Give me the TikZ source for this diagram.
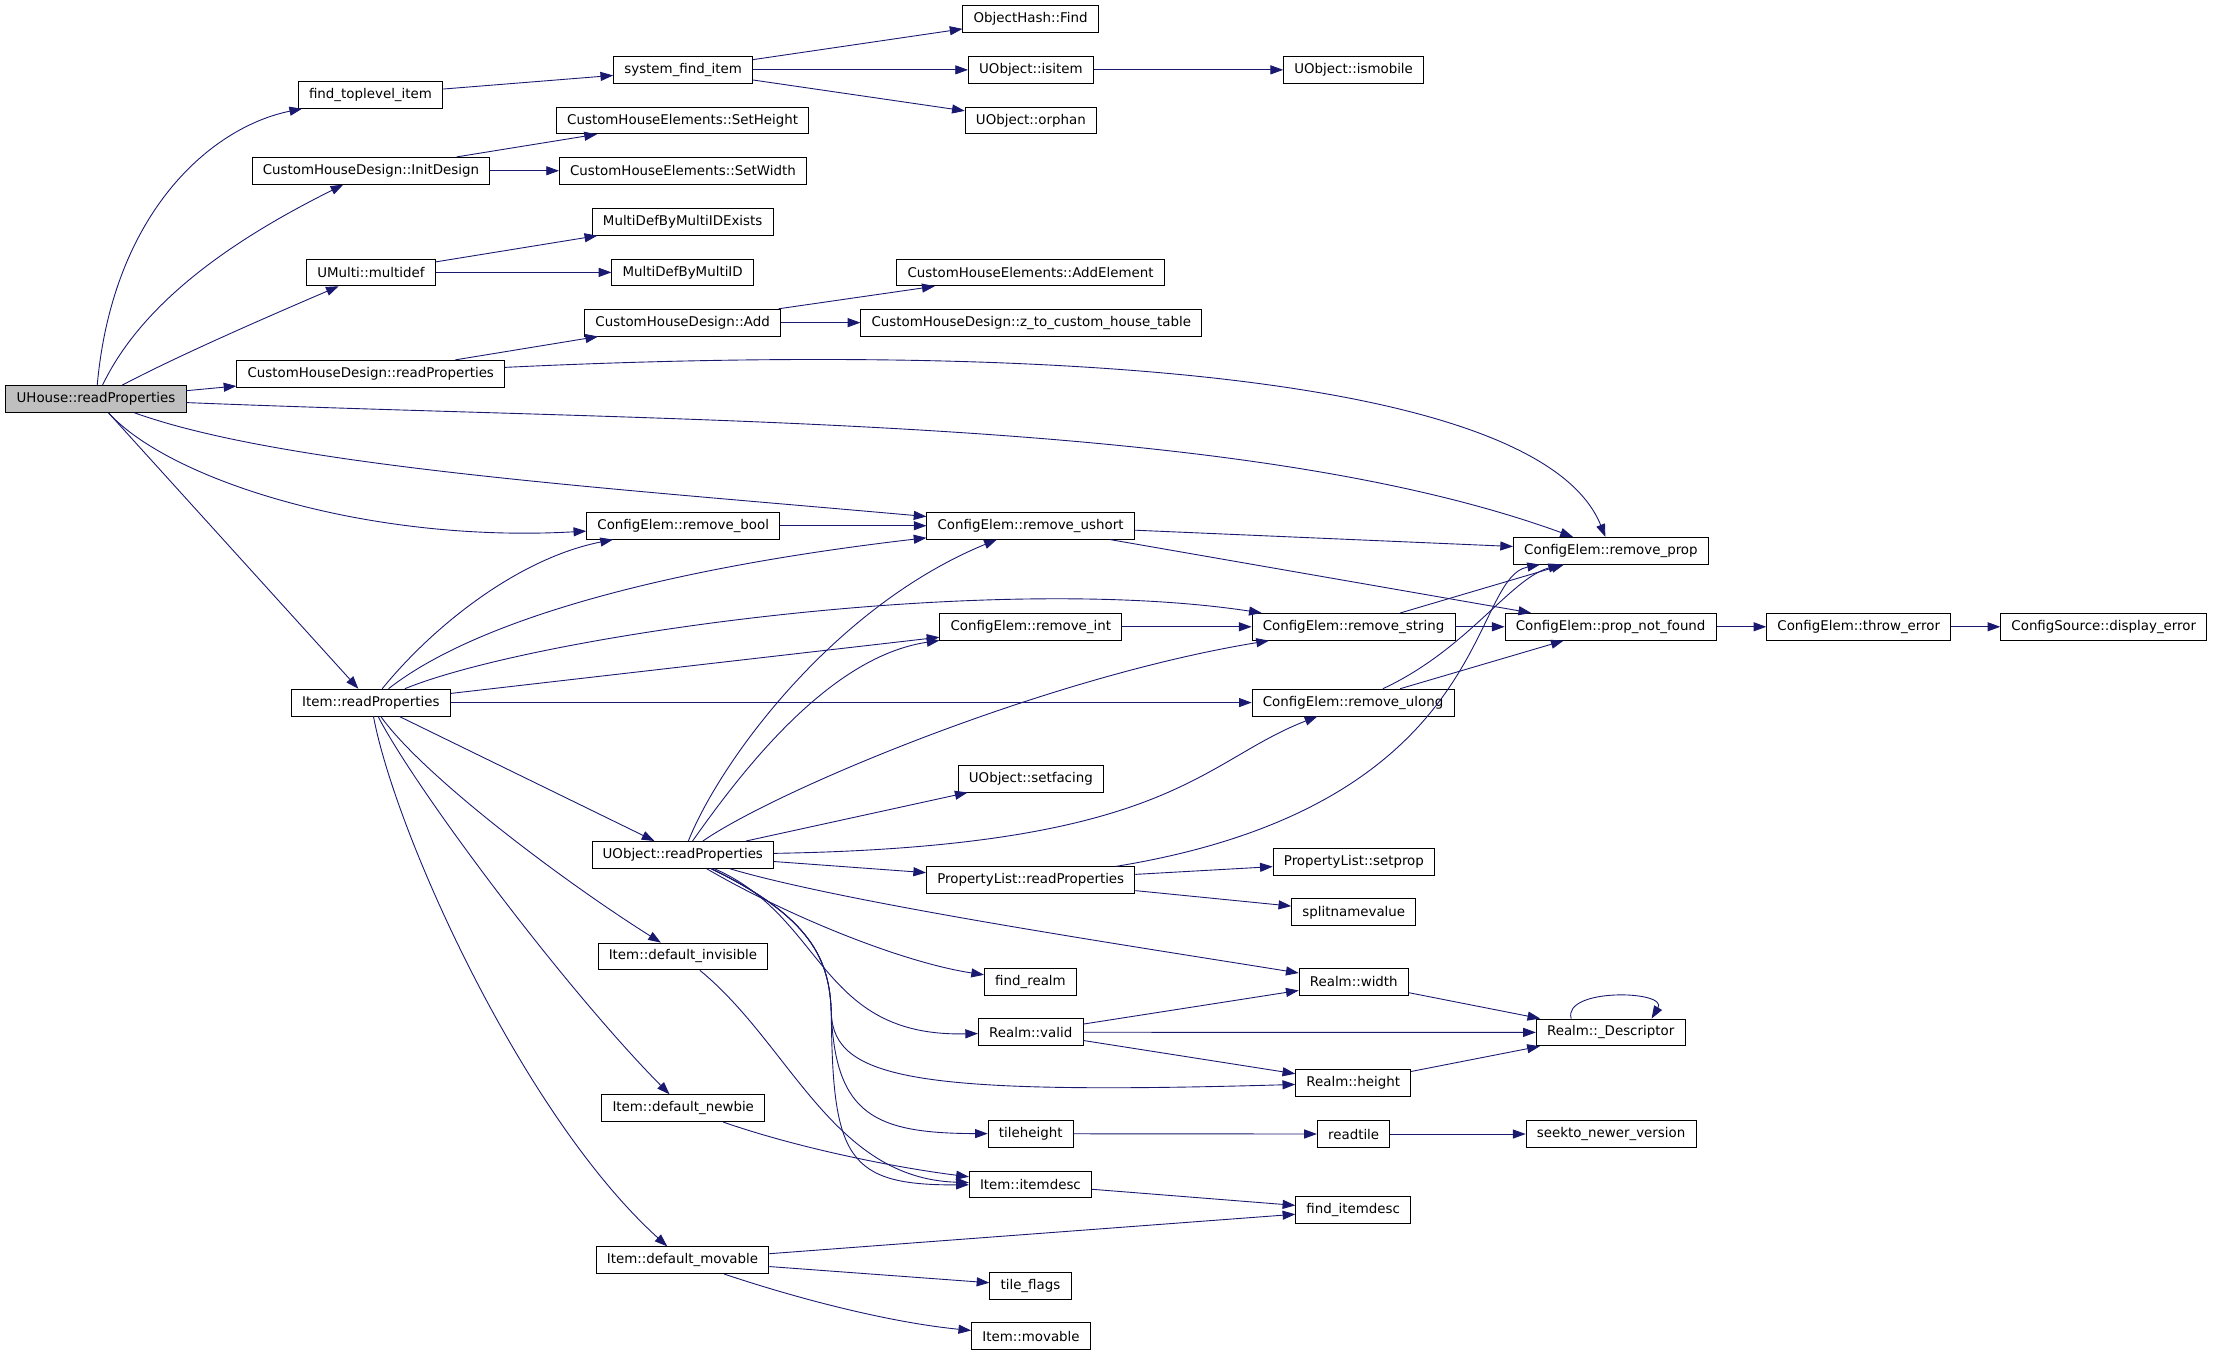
\documentclass[tikz,border=0pt]{standalone}
\usepackage{fontspec}
\setmainfont{DejaVu Sans}
\usetikzlibrary{arrows.meta}
\definecolor{edgeblue}{RGB}{25,25,112}
\definecolor{rootgray}{RGB}{191,191,191}

\begin{document}
\begin{tikzpicture}[x=0.05cm,y=-0.05cm,
   fn/.style={draw,fill=white,line width=0.9pt,inner xsep=0.38cm,inner ysep=0pt,
      minimum height=0.95cm,font=\fontsize{13.5}{16}\selectfont},
   call/.style={draw=edgeblue,line width=0.9pt,-{Triangle[length=0.45cm,width=0.32cm]}}]
   \useasboundingbox (0,0) rectangle (1568,960);

   \node[fn,fill=rootgray] (uh) at (68,282.7) {UHouse::readProperties};

   \node[fn] (ftl)     at (262.5,67.2)  {find\_toplevel\_item};
   \node[fn] (chdinit) at (262.8,121)   {CustomHouseDesign::InitDesign};
   \node[fn] (mdef)    at (262.8,193)   {UMulti::multidef};
   \node[fn] (chdread) at (262.7,264.8) {CustomHouseDesign::readProperties};
   \node[fn] (iread)   at (262.8,497.8) {Item::readProperties};

   \node[fn] (sfi)     at (484,49.5)    {system\_find\_item};
   \node[fn] (seth)    at (483.7,85.3)  {CustomHouseElements::SetHeight};
   \node[fn] (setw)    at (483.9,121)   {CustomHouseElements::SetWidth};
   \node[fn] (mdex)    at (483.7,157.2) {MultiDefByMultiIDExists};
   \node[fn] (mdid)    at (483.7,193)   {MultiDefByMultiID};
   \node[fn] (chdadd)  at (483.7,228.6) {CustomHouseDesign::Add};
   \node[fn] (rbool)   at (484.1,372.5) {ConfigElem::remove\_bool};
   \node[fn] (uoread)  at (483.8,605.7) {UObject::readProperties};
   \node[fn] (dinv)    at (483.9,677.7) {Item::default\_invisible};
   \node[fn] (dnew)    at (484.1,785.2) {Item::default\_newbie};
   \node[fn] (dmov)    at (483.6,892.9) {Item::default\_movable};

   \node[fn] (ohf)     at (730.2,13.4)  {ObjectHash::Find};
   \node[fn] (isit)    at (730.4,49.5)  {UObject::isitem};
   \node[fn] (orph)    at (730.4,85.3)  {UObject::orphan};
   \node[fn] (addel)   at (730.2,193)   {CustomHouseElements::AddElement};
   \node[fn] (zcht)    at (730.7,228.6) {CustomHouseDesign::z\_to\_custom\_house\_table};
   \node[fn] (rushort) at (730.2,372.5) {ConfigElem::remove\_ushort};
   \node[fn] (rint)    at (730.4,444.1) {ConfigElem::remove\_int};
   \node[fn] (sface)   at (730.4,551.7) {UObject::setfacing};
   \node[fn] (plread)  at (730.3,623.7) {PropertyList::readProperties};
   \node[fn] (frealm)  at (730.1,695.7) {find\_realm};
   \node[fn] (rvalid)  at (730.3,731.4) {Realm::valid};
   \node[fn] (theight) at (730.3,803.3) {tileheight};
   \node[fn] (idesc)   at (730.1,839.2) {Item::itemdesc};
   \node[fn] (tflags)  at (730.1,911)   {tile\_flags};
   \node[fn] (imov)    at (730.5,946.8) {Item::movable};

   \node[fn] (ismob)   at (959.1,49.5)  {UObject::ismobile};
   \node[fn] (rstring) at (959,444.1)   {ConfigElem::remove\_string};
   \node[fn] (rulong)  at (958.7,497.8) {ConfigElem::remove\_ulong};
   \node[fn] (setprop) at (959.3,610.8) {PropertyList::setprop};
   \node[fn] (splitnv) at (959.2,646.4) {splitnamevalue};
   \node[fn] (rwidth)  at (959.2,695.7) {Realm::width};
   \node[fn] (rheight) at (958.8,767.2) {Realm::height};
   \node[fn] (rtile)   at (959.1,803.5) {readtile};
   \node[fn] (fidesc)  at (958.8,857.3) {find\_itemdesc};

   \node[fn] (rprop)   at (1141.4,390.2) {ConfigElem::remove\_prop};
   \node[fn] (pnf)     at (1141.2,444.1) {ConfigElem::prop\_not\_found};
   \node[fn] (rdesc)   at (1141.2,731.5) {Realm::\_Descriptor};
   \node[fn] (seekto)  at (1141.5,803.5) {seekto\_newer\_version};
   \node[fn] (therr)   at (1317,444.1)   {ConfigElem::throw\_error};
   \node[fn] (disperr) at (1490.6,444.1) {ConfigSource::display\_error};

   \coordinate (ubend) at (589,718);

   \draw[call] (uh) .. controls (80,150) and (150,90) .. (ftl);
   \draw[call] (uh) .. controls (105,205) and (185,160) .. (chdinit);
   \draw[call] (uh) .. controls (130,250) and (200,220) .. (mdef);
   \draw[call] (uh) -- (chdread);
   \draw[call] (uh) .. controls (500,300) and (880,295) .. (rprop);
   \draw[call] (uh) .. controls (200,330) and (420,345) .. (rushort);
   \draw[call] (uh) .. controls (120,340) and (260,385) .. (rbool);
   \draw[call] (uh) -- (iread);

   \draw[call] (ftl) -- (sfi);
   \draw[call] (sfi) -- (ohf);
   \draw[call] (sfi) -- (isit);
   \draw[call] (sfi) -- (orph);
   \draw[call] (isit) -- (ismob);
   \draw[call] (chdinit) -- (seth);
   \draw[call] (chdinit) -- (setw);
   \draw[call] (mdef) -- (mdex);
   \draw[call] (mdef) -- (mdid);
   \draw[call] (chdread) -- (chdadd);
   \draw[call] (chdread) .. controls (720,243) and (1090,262) .. (rprop);
   \draw[call] (chdadd) -- (addel);
   \draw[call] (chdadd) -- (zcht);

   \draw[call] (rbool) -- (rushort);
   \draw[call] (rushort) -- (rprop);
   \draw[call] (rushort) -- (pnf);
   \draw[call] (rint) -- (rstring);
   \draw[call] (rstring) -- (rprop);
   \draw[call] (rstring) -- (pnf);
   \draw[call] (rulong) .. controls (1040,460) and (1070,410) .. (rprop);
   \draw[call] (rulong) -- (pnf);
   \draw[call] (pnf) -- (therr);
   \draw[call] (therr) -- (disperr);

   \draw[call] (iread) .. controls (310,440) and (370,395) .. (rbool);
   \draw[call] (iread) .. controls (330,445) and (450,405) .. (rushort);
   \draw[call] (iread) .. controls (380,450) and (700,405) .. (rstring);
   \draw[call] (iread) -- (rint);
   \draw[call] (iread) -- (rulong);
   \draw[call] (iread) -- (uoread);
   \draw[call] (iread) .. controls (300,550) and (400,625) .. (dinv);
   \draw[call] (iread) .. controls (295,560) and (400,700) .. (dnew);
   \draw[call] (iread) .. controls (280,590) and (370,790) .. (dmov);

   \draw[call] (uoread) .. controls (510,540) and (590,430) .. (rushort);
   \draw[call] (uoread) .. controls (530,540) and (590,465) .. (rint);
   \draw[call] (uoread) .. controls (550,560) and (740,480) .. (rstring);
   \draw[call] (uoread) .. controls (830,600) and (850,540) .. (rulong);
   \draw[call] (uoread) -- (sface);
   \draw[call] (uoread) -- (plread);
   \draw[call] (uoread) .. controls (600,640) and (800,670) .. (rwidth);
   \draw[call] (uoread) .. controls (560,650) and (640,682) .. (frealm);
   \draw[call] (uoread) .. controls (585,650) and (580,735) .. (rvalid);
   \draw[call] (uoread) .. controls (575,650) and (588,680) .. (ubend)
                        .. controls (591,765) and (650,776) .. (rheight);
   \draw[call] (uoread) .. controls (575,650) and (588,680) .. (ubend)
                        .. controls (592,790) and (620,803) .. (theight);
   \draw[call] (uoread) .. controls (575,650) and (588,680) .. (ubend)
                        .. controls (590,820) and (600,840) .. (idesc);

   \draw[call] (plread) -- (setprop);
   \draw[call] (plread) -- (splitnv);
   \draw[call] (plread) .. controls (1060,570) and (1040,410) .. (rprop);

   \draw[call] (rvalid) -- (rwidth);
   \draw[call] (rvalid) -- (rdesc);
   \draw[call] (rvalid) -- (rheight);
   \draw[call] (rwidth) -- (rdesc);
   \draw[call] (rheight) -- (rdesc);
   \draw[call] ([xshift=-1.4cm]rdesc.north) .. controls +(-6,-22) and +(12,-20) .. ([xshift=1.45cm]rdesc.north);
   \draw[call] (theight) -- (rtile);
   \draw[call] (rtile) -- (seekto);

   \draw[call] (dinv) .. controls (560,740) and (590,835) .. (idesc);
   \draw[call] (dnew) .. controls (570,815) and (640,828) .. (idesc);
   \draw[call] (idesc) -- (fidesc);
   \draw[call] (dmov) -- (fidesc);
   \draw[call] (dmov) -- (tflags);
   \draw[call] (dmov) .. controls (580,925) and (640,938) .. (imov);

\end{tikzpicture}
\end{document}
